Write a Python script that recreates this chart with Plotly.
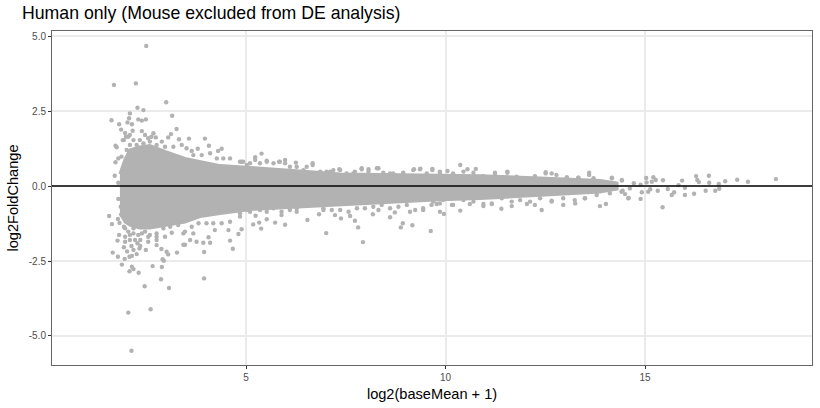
import plotly.graph_objects as go

title = "Human only (Mouse excluded from DE analysis)"
x_ticks = [5, 10, 15]
y_ticks = [-5, -2.5, 0, 2.5, 5]
y_tick_labels = ["-5.0", "-2.5", "0.0", "2.5", "5.0"]

# Outline of the solid central cloud
cloud_x = [1.84, 1.97, 2.09, 2.34, 2.59, 2.97, 3.47, 3.85, 4.35, 5.1, 5.6, 6.35, 7.36, 8.36, 9.86, 10.87, 12.37, 13.87, 14.3]
cloud_upper = [0.40, 0.90, 1.20, 1.30, 1.35, 1.15, 0.92, 0.82, 0.68, 0.62, 0.58, 0.50, 0.40, 0.38, 0.36, 0.34, 0.27, 0.18, 0.10]
cloud_lower = [-0.90, -1.20, -1.30, -1.40, -1.40, -1.30, -1.20, -1.02, -0.92, -0.78, -0.74, -0.68, -0.63, -0.56, -0.46, -0.42, -0.30, -0.20, -0.10]

upper_x = [2.50, 1.69, 2.24, 3.00, 3.15, 2.28, 2.43, 2.09, 2.07, 1.63, 1.82, 2.03, 2.14, 2.30, 2.39, 2.49, 3.26,
           1.87, 1.97, 2.16, 2.39, 2.68, 3.12, 3.05, 3.32, 3.57, 3.97, 4.07, 4.39, 4.30, 3.79, 3.64, 1.73, 1.76,
           1.91, 2.05, 2.34, 2.55, 2.74, 2.89, 1.80, 1.73, 1.71, 1.80,
           5.39, 5.23, 5.83, 5.98, 6.25, 6.67, 6.52, 5.52, 4.93, 7.34, 7.90, 8.07, 8.32, 9.21, 9.37, 9.67, 7.11,
           7.69, 8.61, 8.94, 10.37, 10.05, 10.55, 10.76, 11.24, 11.55, 12.51, 12.66, 13.60, 13.71, 14.17, 14.42,
           12.24, 13.33, 13.04]
upper_y = [4.67, 3.37, 3.42, 2.79, 2.34, 2.61, 2.53, 2.42, 2.26, 2.19, 2.06, 2.12, 2.06, 2.22, 2.18, 2.22, 1.90,
           1.88, 1.77, 1.84, 1.83, 1.76, 1.73, 1.62, 1.56, 1.58, 1.58, 1.34, 1.24, 1.17, 1.24, 1.17, 1.34, 1.29,
           1.53, 1.64, 1.53, 1.59, 1.62, 1.48, 0.92, 0.79, 0.34, 0.11,
           1.08, 0.96, 0.81, 0.87, 0.78, 0.76, 0.64, 0.81, 0.81, 0.56, 0.59, 0.56, 0.59, 0.56, 0.58, 0.57, 0.48,
           0.42, 0.42, 0.44, 0.70, 0.50, 0.56, 0.57, 0.44, 0.48, 0.46, 0.42, 0.44, 0.26, 0.28, 0.20,
           0.31, 0.28, 0.29]

lower_x = [2.13, 2.05, 2.61, 3.07, 2.46, 2.87, 3.95, 2.31, 2.08, 2.14, 2.18, 1.89, 2.66, 2.89, 2.91, 2.94, 1.96,
           1.79, 1.66, 2.08, 2.14, 2.26, 2.02, 1.94, 2.18, 2.33, 2.49, 2.88, 3.01, 3.05, 3.27, 3.95, 4.67, 4.60,
           4.10, 3.93, 3.43, 3.47, 2.76, 1.78, 1.82, 2.09, 2.28, 2.55, 1.97, 2.18, 2.39, 2.76, 2.97, 3.14, 3.43,
           3.68, 3.60, 3.76, 4.06, 4.81, 4.89, 4.22, 4.56, 1.57, 1.64, 1.79, 1.83, 1.80, 1.86, 1.88,
           7.01, 7.93, 9.63, 7.81, 8.88, 8.93, 9.17, 6.54, 5.98, 5.73, 5.38, 5.18, 5.33, 5.24, 5.52, 6.83, 6.94,
           7.23, 7.38, 7.61, 7.73, 8.18, 8.32, 8.61, 8.73, 9.11, 9.44, 9.86, 5.89, 6.27,
           9.96, 10.37, 11.40, 10.95, 11.66, 12.41, 12.95, 13.87, 14.02, 13.25, 13.50, 12.66, 12.24, 12.04, 10.16,
           10.61, 9.78, 14.58, 11.16]
lower_y = [-5.49, -4.22, -4.11, -3.40, -3.34, -3.11, -3.08, -2.89, -2.84, -2.69, -2.77, -2.62, -2.67, -2.70, -2.44, -2.49, -2.43,
           -2.36, -2.22, -2.36, -2.33, -2.27, -2.18, -2.04, -2.13, -2.08, -2.13, -2.10, -2.19, -2.28, -2.22, -2.20, -2.09, -1.82,
           -1.89, -1.89, -1.96, -1.96, -1.97, -1.82, -1.63, -1.80, -1.91, -1.86, -1.69, -1.58, -1.58, -1.80, -1.69, -1.56, -1.58,
           -1.58, -1.80, -1.86, -1.71, -1.60, -1.44, -1.47, -1.47, -1.00, -1.27, -1.10, -1.23, -0.43, -0.69, -0.97,
           -1.57, -1.87, -1.50, -1.38, -1.38, -1.24, -1.31, -1.13, -1.29, -1.22, -1.42, -1.28, -1.22, -0.99, -1.11, -0.94, -0.80,
           -0.97, -1.08, -1.00, -1.16, -0.94, -0.80, -1.04, -0.88, -0.86, -0.80, -0.86, -0.97, -0.86,
           -0.93, -0.82, -0.76, -0.67, -0.67, -0.80, -0.63, -0.67, -0.60, -0.58, -0.41, -0.52, -0.63, -0.60, -0.63,
           -0.60, -0.60, -0.41, -0.60]

tail_x = [18.28, 17.58, 17.31, 17.01, 16.60, 16.28, 16.31, 16.35, 16.61, 15.93, 15.45, 16.85, 16.86, 16.76, 16.52, 16.23,
          16.00, 16.00, 15.84, 15.67, 15.73, 15.57, 15.44, 15.32, 15.21, 15.27, 15.17, 15.03, 15.04, 14.89, 14.89, 14.92,
          15.08, 15.13, 14.59, 14.50, 14.44, 14.62, 14.72, 14.42]
tail_y = [0.23, 0.14, 0.21, 0.16, 0.34, 0.33, 0.20, 0.13, 0.11, 0.18, 0.19, 0.07, -0.09, -0.16, -0.16, -0.26,
          -0.30, -0.06, 0.03, -0.30, -0.21, -0.10, -0.71, -0.16, 0.29, 0.20, 0.14, 0.27, 0.12, 0.04, -0.43, -0.21,
          -0.19, -0.11, -0.40, -0.27, -0.16, -0.08, 0.09, 0.18]

# Points read along the ragged rim of the cloud
rim_top_x = [1.88, 2.01, 2.09, 2.26, 2.43, 2.59, 2.76, 2.97, 3.18, 3.39, 3.51, 3.68, 3.89, 4.10, 4.27, 4.43, 4.60, 4.89, 5.10,
             1.94, 1.99, 2.09, 2.18, 2.47, 2.63, 4.85, 5.02, 5.23, 5.35, 5.52, 5.69, 5.85, 5.98, 6.10, 6.27, 6.44, 6.67,
             6.86, 7.02, 7.19, 7.36, 7.52, 7.73, 7.90, 8.07, 8.28, 8.44, 8.69, 8.94, 9.19, 9.36, 9.53, 9.67, 9.86,
             9.86, 10.19, 10.45, 10.70, 10.95, 11.24, 11.55, 11.78, 12.03, 12.24, 12.51, 12.78, 13.04, 13.33, 13.60, 13.87, 14.17]
rim_top_y = [0.98, 1.20, 1.37, 1.37, 1.42, 1.48, 1.37, 1.31, 1.31, 1.37, 1.26, 1.03, 1.03, 1.09, 0.92, 0.92, 0.92, 0.81, 0.76,
             1.53, 1.64, 1.70, 1.53, 1.70, 1.64, 0.81, 0.70, 0.87, 0.76, 0.84, 0.76, 0.81, 0.76, 0.64, 0.64, 0.53, 0.70,
             0.48, 0.48, 0.53, 0.53, 0.42, 0.48, 0.56, 0.48, 0.59, 0.44, 0.42, 0.42, 0.53, 0.56, 0.42, 0.53, 0.48,
             0.44, 0.42, 0.48, 0.44, 0.33, 0.42, 0.44, 0.31, 0.26, 0.33, 0.42, 0.37, 0.26, 0.28, 0.37, 0.15, 0.26]

rim_low_x = [1.94, 2.05, 2.18, 2.30, 2.47, 2.59, 2.76, 2.93, 3.10, 3.30, 3.47, 3.64, 3.81, 4.01, 4.18, 4.39, 4.60, 4.85, 5.10,
             1.97, 2.09, 2.22, 2.35, 1.97, 2.13, 2.35, 2.55, 2.76,
             4.85, 5.02, 5.18, 5.35, 5.52, 5.69, 5.89, 6.10, 6.27, 6.52, 6.73, 6.94, 7.15, 7.36, 7.57, 7.78, 7.98, 8.19, 8.40,
             8.61, 8.82, 9.03, 9.24, 9.44, 9.65, 9.86,
             9.69, 9.94, 10.19, 10.45, 10.70, 10.95, 11.16, 11.41, 11.66, 11.87, 12.12, 12.37, 12.66, 12.95, 13.24, 13.49, 13.79, 14.12, 14.41]
rim_low_y = [-1.36, -1.52, -1.41, -1.63, -1.52, -1.63, -1.58, -1.41, -1.36, -1.30, -1.52, -1.36, -1.24, -1.24, -1.24, -1.24, -1.19, -1.02, -0.86,
             -1.41, -1.63, -1.80, -1.80, -1.86, -2.00, -2.00, -1.69, -1.69,
             -0.91, -0.80, -0.74, -0.80, -0.86, -0.74, -0.86, -0.80, -0.74, -0.63, -0.63, -0.74, -0.80, -0.80, -0.86, -0.74, -0.74, -0.69, -0.63,
             -0.74, -0.69, -0.63, -0.80, -0.74, -0.63, -0.58,
             -0.52, -0.47, -0.63, -0.47, -0.52, -0.60, -0.58, -0.41, -0.52, -0.47, -0.52, -0.41, -0.49, -0.41, -0.47, -0.41, -0.30, -0.24, -0.19]

GREY = "#B2B2B2"
fig = go.Figure()
fig.add_trace(go.Scatter(
    x=cloud_x + cloud_x[::-1], y=cloud_upper + cloud_lower[::-1],
    mode="lines", fill="toself", fillcolor=GREY,
    line=dict(color=GREY, width=3, shape="linear"), hoverinfo="skip", showlegend=False,
))
for xs, ys in ((upper_x, upper_y), (lower_x, lower_y), (tail_x, tail_y),
               (rim_top_x, rim_top_y), (rim_low_x, rim_low_y)):
    fig.add_trace(go.Scatter(x=xs, y=ys, mode="markers",
                             marker=dict(color=GREY, size=4.4, line=dict(width=0)), showlegend=False))

fig.add_hline(y=0, line=dict(color="black", width=1.5), layer="above")

axis_common = dict(
    showgrid=True, gridcolor="#EBEBEB", gridwidth=1.5, zeroline=False,
    showline=True, linecolor="#666666", linewidth=1, mirror=True,
    ticks="outside", ticklen=3, tickwidth=1, tickcolor="#333333", automargin=False,
    tickfont=dict(family="Liberation Sans", size=10, color="#4D4D4D"),
)
fig.update_xaxes(range=[0.138, 19.185], tickvals=x_ticks,
                 title=dict(text="log2(baseMean + 1)", standoff=6,
                            font=dict(family="Liberation Sans", size=14.6, color="black")),
                 **axis_common)
fig.update_yaxes(range=[-5.967, 5.167], tickvals=y_ticks, ticktext=y_tick_labels,
                 title=dict(text="log2FoldChange", standoff=6,
                            font=dict(family="Liberation Sans", size=14.6, color="black")),
                 **axis_common)
fig.update_layout(
    width=820, height=408, autosize=False,
    margin=dict(l=52, r=8, t=31, b=43),
    paper_bgcolor="white", plot_bgcolor="white",
    title=dict(text=title, x=22 / 820, xanchor="left", y=1 - 13 / 408, yanchor="middle",
               font=dict(family="Liberation Sans", size=17.7, color="black")),
    showlegend=False,
)
# Remove the page's default body margin so the figure fills the 820x408 window.
fig.write_html("out.html", config={"displayModeBar": False},
               post_script="document.body.style.margin='0';")
